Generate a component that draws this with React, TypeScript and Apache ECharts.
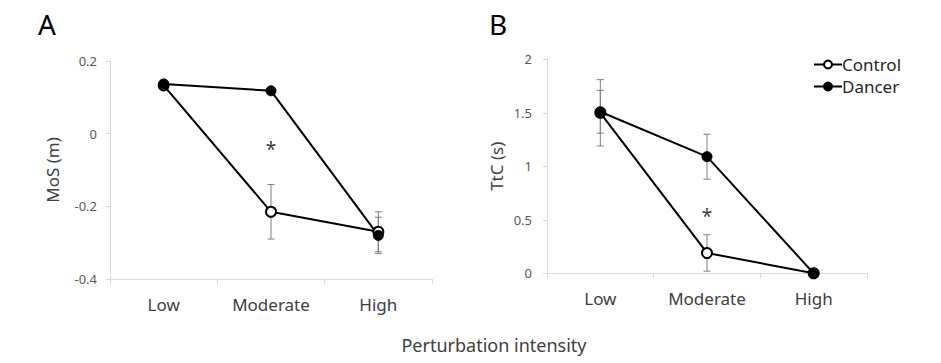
import React, { useEffect, useRef } from "react";
import * as echarts from "echarts";

const categories = ["Low", "Moderate", "High"];
const mosControl = [0.133, -0.215, -0.27];
const mosDancer = [0.137, 0.118, -0.28];
const mosControlErr = [0.004, 0.075, 0.055];
const mosDancerErr = [0.004, 0.004, 0.05];
const ttcControl = [1.5, 0.19, 0.0];
const ttcDancer = [1.51, 1.09, 0.0];
const ttcControlErr = [0.31, 0.17, 0.0];
const ttcDancerErr = [0.2, 0.21, 0.0];
const mosStar = [["Moderate", -0.042]];
const ttcStar = [["Moderate", 0.535]];

const FONT = "Noto Sans";

function errorSeries(idx: number, means: number[], errs: number[]) {
  return {
    type: "custom",
    xAxisIndex: idx,
    yAxisIndex: idx,
    silent: true,
    z: 1,
    data: means.map((m, i) => [i, m - errs[i], m + errs[i]]),
    encode: { x: 0, y: [1, 2] },
    renderItem: (params: any, api: any) => {
      const x = api.value(0);
      const lo = api.coord([x, api.value(1)]);
      const hi = api.coord([x, api.value(2)]);
      const w = 3.5;
      const style = { stroke: "#7f7f7f", lineWidth: 1 };
      return {
        type: "group",
        children: [
          { type: "line", shape: { x1: lo[0], y1: lo[1], x2: hi[0], y2: hi[1] }, style },
          { type: "line", shape: { x1: lo[0] - w, y1: lo[1], x2: lo[0] + w, y2: lo[1] }, style },
          { type: "line", shape: { x1: hi[0] - w, y1: hi[1], x2: hi[0] + w, y2: hi[1] }, style },
        ],
      };
    },
  };
}

function lineSeries(name: string, idx: number, data: number[], open: boolean) {
  return {
    type: "line",
    name,
    xAxisIndex: idx,
    yAxisIndex: idx,
    data,
    z: 3,
    symbol: "circle",
    symbolSize: 10,
    lineStyle: { color: "#000", width: 2 },
    itemStyle: open
      ? { color: "#fff", borderColor: "#000", borderWidth: 2 }
      : { color: "#000", borderColor: "#000", borderWidth: 1 },
  };
}

function starSeries(idx: number, data: any[]) {
  return {
    type: "scatter",
    xAxisIndex: idx,
    yAxisIndex: idx,
    symbolSize: 0,
    data,
    silent: true,
    label: {
      show: true,
      position: "inside",
      formatter: "*",
      color: "#000",
      fontSize: 19,
      fontFamily: FONT,
    },
  };
}

const xAxisBase = {
  type: "category",
  data: categories,
  boundaryGap: true,
  axisLine: { show: true, onZero: false, lineStyle: { color: "#d9d9d9", width: 1 } },
  axisTick: { show: true, alignWithLabel: false, length: 5, lineStyle: { color: "#d9d9d9" } },
  axisLabel: { color: "#404040", fontSize: 17, fontFamily: FONT, margin: 17 },
  splitLine: { show: false },
};

const yLabel = { color: "#595959", fontSize: 13, fontFamily: FONT };

export default function App() {
  const ref = useRef<HTMLDivElement>(null);
  useEffect(() => {
    if (!ref.current) return;
    const chart = echarts.init(ref.current, undefined, { renderer: "svg" });
    chart.setOption({
      animation: false,
      backgroundColor: "#fff",
      textStyle: { fontFamily: FONT },
      grid: [
        { left: 110, top: 61, width: 322, height: 218 },
        { left: 547, top: 59.3, width: 320, height: 214 },
      ],
      xAxis: [
        { ...xAxisBase, gridIndex: 0 },
        { ...xAxisBase, gridIndex: 1 },
      ],
      yAxis: [
        {
          type: "value",
          gridIndex: 0,
          min: -0.4,
          max: 0.2,
          interval: 0.2,
          name: "MoS (m)",
          nameLocation: "middle",
          nameGap: 49,
          nameTextStyle: { color: "#404040", fontSize: 17, fontFamily: FONT },
          axisLine: { show: true, lineStyle: { color: "#d9d9d9" } },
          axisTick: { show: true, length: 4, lineStyle: { color: "#d9d9d9" } },
          axisLabel: { ...yLabel, margin: 13, formatter: (v: number) => (Math.abs(v) < 1e-9 ? "0" : String(Math.round(v * 10) / 10)) },
          splitLine: { show: false },
        },
        {
          type: "value",
          gridIndex: 1,
          min: 0,
          max: 2,
          interval: 0.5,
          name: "TtC (s)",
          nameLocation: "middle",
          nameGap: 42,
          nameTextStyle: { color: "#404040", fontSize: 17, fontFamily: FONT },
          axisLine: { show: true, lineStyle: { color: "#d9d9d9" } },
          axisTick: { show: true, length: 4, lineStyle: { color: "#d9d9d9" } },
          axisLabel: { ...yLabel, margin: 15 },
          splitLine: { show: false },
        },
      ],
      legend: {
        left: 808,
        top: 51,
        orient: "vertical",
        itemWidth: 28,
        itemHeight: 10,
        itemGap: 5,
        data: ["Control", "Dancer"],
        textStyle: { color: "#262626", fontSize: 17, fontFamily: FONT, padding: [0, 0, 0, -5] },
      },
      graphic: [
        { type: "text", left: 38, top: 10, style: { text: "A", fontSize: 28, fill: "#000", fontFamily: FONT } },
        { type: "text", left: 489, top: 10, style: { text: "B", fontSize: 28, fill: "#000", fontFamily: FONT } },
        {
          type: "text",
          x: 494,
          y: 345,
          style: { text: "Perturbation intensity", fontSize: 18, fill: "#404040", fontFamily: FONT, align: "center", verticalAlign: "middle" },
        },
      ],
      series: [
        errorSeries(0, mosControl, mosControlErr),
        errorSeries(0, mosDancer, mosDancerErr),
        lineSeries("Control", 0, mosControl, true),
        lineSeries("Dancer", 0, mosDancer, false),
        starSeries(0, mosStar),
        errorSeries(1, ttcControl, ttcControlErr),
        errorSeries(1, ttcDancer, ttcDancerErr),
        lineSeries("Control", 1, ttcControl, true),
        lineSeries("Dancer", 1, ttcDancer, false),
        starSeries(1, ttcStar),
      ],
    });
    return () => chart.dispose();
  }, []);
  return (
    <div
      ref={ref}
      style={{ position: "fixed", left: 0, top: 0, width: 941, height: 363, background: "#fff" }}
    />
  );
}
